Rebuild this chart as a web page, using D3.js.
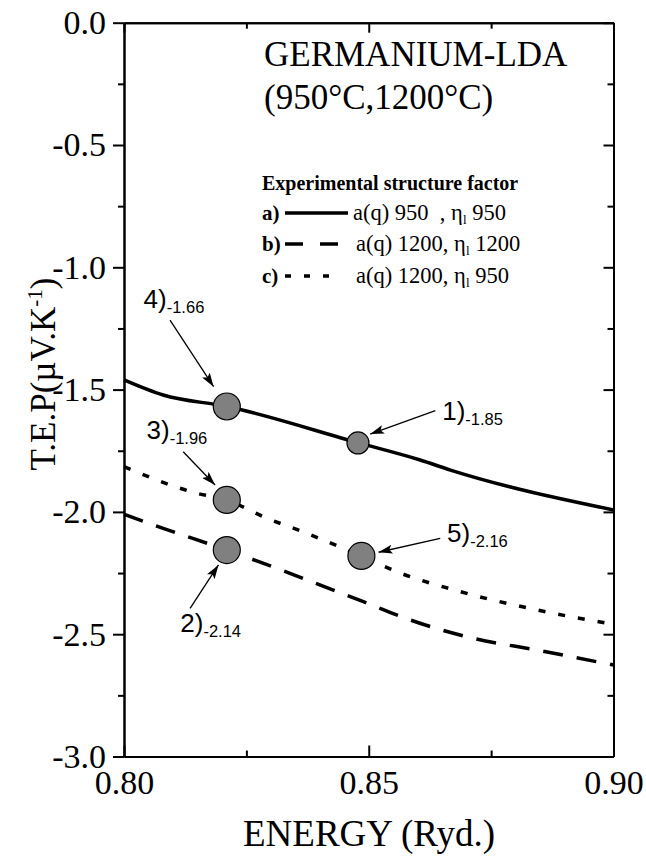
<!DOCTYPE html>
<html lang="en">
<head>
<meta charset="UTF-8">
<title>Germanium LDA - TEP</title>
<style>
  body { margin: 0; background: #fff; }
  svg { display: block; background: #fff; }
  text { font-family: "Liberation Serif", "Times New Roman", serif; fill: #000; }
  .callout text { font-family: "Liberation Sans", Arial, sans-serif; }
  .axis path, .axis line { stroke: #000; stroke-width: 2; }
</style>
</head>
<body>
<div id="graphic"></div>
<script src="https://cdn.jsdelivr.net/npm/d3@7"></script>
<script>
// curve a) a(q) 950, eta 950  (solid)
var solidE = [0.800, 0.808, 0.821, 0.8479, 0.8605, 0.8667, 0.900];
var solidT = [-1.46, -1.522, -1.569, -1.718, -1.788, -1.829, -1.992];
// curve b) a(q) 1200, eta 1200 (dashed)
var dashE = [0.800, 0.808, 0.821, 0.8489, 0.8585, 0.8714, 0.8844, 0.900];
var dashT = [-2.01, -2.067, -2.156, -2.367, -2.442, -2.517, -2.565, -2.626];
// curve c) a(q) 1200, eta 950 (dotted)
var dotE = [0.800, 0.8149, 0.821, 0.8285, 0.8374, 0.8484, 0.8558, 0.8687, 0.8844, 0.900];
var dotT = [-1.815, -1.924, -1.951, -2.02, -2.088, -2.18, -2.245, -2.326, -2.401, -2.46];

// marked points
var markE = [0.821, 0.8478, 0.821, 0.821, 0.8485];
var markT = [-1.569, -1.718, -1.951, -2.156, -2.18];
var markName = ["4)", "1)", "3)", "2)", "5)"];
var markValue = ["-1.66", "-1.85", "-1.96", "-2.14", "-2.16"];
// where each label sits and where its arrow runs (data units)
var labelE = [0.8040, 0.8650, 0.8046, 0.8115, 0.8660];
var labelT = [-1.168, -1.624, -1.70, -2.491, -2.122];
var arrowFromE = [0.8094, 0.8636, 0.8121, 0.8135, 0.8646];
var arrowFromT = [-1.216, -1.586, -1.754, -2.394, -2.108];
var arrowToE = [0.8183, 0.8503, 0.8186, 0.8193, 0.8520];
var arrowToT = [-1.488, -1.682, -1.890, -2.217, -2.165];

var xMajor = [0.80, 0.85, 0.90];
var xMinor = [0.825, 0.875];
var yMajor = [0.0, -0.5, -1.0, -1.5, -2.0, -2.5, -3.0];
var yMinor = [-0.25, -0.75, -1.25, -1.75, -2.25, -2.75];

var legendKey = ["a)", "b)", "c)"];
var legendHead = ["a(q) 950  , \u03b7", "a(q) 1200, \u03b7", "a(q) 1200, \u03b7"];
var legendTail = [" 950", " 1200", " 950"];

var width = 646;
var height = 860;
var padL = 124, padR = 613.5, padT = 22.7, padB = 756.5;

var x = d3.scaleLinear().domain([0.80, 0.90]).range([padL, padR]);
var y = d3.scaleLinear().domain([0, -3]).range([padT, padB]);

var svg = d3.select('#graphic')
    .append('svg')
    .attr('width', width)
    .attr('height', height);

// arrow head
svg.append('defs').append('marker')
    .attr('id', 'head')
    .attr('viewBox', '0 0 14 9')
    .attr('refX', 14).attr('refY', 4.5)
    .attr('markerWidth', 14).attr('markerHeight', 9)
    .attr('markerUnits', 'userSpaceOnUse')
    .attr('orient', 'auto')
    .append('path')
    .attr('d', 'M0,0 L14,4.5 L0,9 L3,4.5 Z')
    .attr('fill', '#000');

// axes: left outward, others inward
function noLabel() { return ''; }

svg.append('g').attr('class', 'axis')
    .attr('transform', 'translate(' + padL + ',0)')
    .call(d3.axisLeft(y).tickValues(yMajor).tickSize(11).tickSizeOuter(0).tickPadding(7)
        .tickFormat(function(d) { return d.toFixed(1); }))
    .call(function(g) {
        g.selectAll('text').attr('font-size', 34).attr('font-family', '"Liberation Serif", serif');
    });
svg.append('g').attr('class', 'axis')
    .attr('transform', 'translate(' + padL + ',0)')
    .call(d3.axisLeft(y).tickValues(yMinor).tickSize(6).tickSizeOuter(0).tickFormat(noLabel));

svg.append('g').attr('class', 'axis')
    .attr('transform', 'translate(' + padR + ',0)')
    .call(d3.axisRight(y).tickValues(yMajor).tickSize(-10).tickSizeOuter(0).tickFormat(noLabel));
svg.append('g').attr('class', 'axis')
    .attr('transform', 'translate(' + padR + ',0)')
    .call(d3.axisRight(y).tickValues(yMinor).tickSize(-6).tickSizeOuter(0).tickFormat(noLabel));

svg.append('g').attr('class', 'axis')
    .attr('transform', 'translate(0,' + padB + ')')
    .call(d3.axisBottom(x).tickValues(xMajor).tickSize(-11).tickSizeOuter(0).tickPadding(13)
        .tickFormat(function(d) { return d.toFixed(2); }))
    .call(function(g) {
        g.selectAll('text').attr('font-size', 34).attr('font-family', '"Liberation Serif", serif');
    });
svg.append('g').attr('class', 'axis')
    .attr('transform', 'translate(0,' + padB + ')')
    .call(d3.axisBottom(x).tickValues(xMinor).tickSize(-6).tickSizeOuter(0).tickFormat(noLabel));

svg.append('g').attr('class', 'axis')
    .attr('transform', 'translate(0,' + padT + ')')
    .call(d3.axisTop(x).tickValues(xMajor).tickSize(-10).tickSizeOuter(0).tickFormat(noLabel));
svg.append('g').attr('class', 'axis')
    .attr('transform', 'translate(0,' + padT + ')')
    .call(d3.axisTop(x).tickValues(xMinor).tickSize(-6).tickSizeOuter(0).tickFormat(noLabel));

// axis titles
svg.append('text')
    .attr('x', 369).attr('y', 846)
    .attr('text-anchor', 'middle')
    .attr('font-size', 37)
    .text('ENERGY (Ryd.)');

var yTitle = svg.append('text')
    .attr('transform', 'translate(55,374) rotate(-90)')
    .attr('text-anchor', 'middle')
    .attr('font-size', 35);
yTitle.append('tspan').text('T.E.P(\u00b5V.K');
yTitle.append('tspan').attr('dy', -13).attr('font-size', 21).text('-1');
yTitle.append('tspan').attr('dy', 13).text(')');

// curves
var line = d3.line()
    .x(function(d) { return x(d[0]); })
    .y(function(d) { return y(d[1]); })
    .curve(d3.curveMonotoneX);

function pairs(a, b) { return a.map(function(v, i) { return [v, b[i]]; }); }

svg.append('path').datum(pairs(dotE, dotT))
    .attr('d', line).attr('fill', 'none').attr('stroke', '#000')
    .attr('stroke-width', 3.5).attr('stroke-dasharray', '7,13');
svg.append('path').datum(pairs(dashE, dashT))
    .attr('d', line).attr('fill', 'none').attr('stroke', '#000')
    .attr('stroke-width', 3.5).attr('stroke-dasharray', '20,14');
svg.append('path').datum(pairs(solidE, solidT))
    .attr('d', line).attr('fill', 'none').attr('stroke', '#000')
    .attr('stroke-width', 3.5);

// marked points with callouts
var callout = svg.append('g').attr('class', 'callout');

callout.selectAll('circle')
    .data(markE)
    .join('circle')
    .attr('cx', function(d) { return x(d); })
    .attr('cy', function(d, i) { return y(markT[i]); })
    .attr('r', function(d, i) { return markName[i] === '1)' ? 11 : 13.5; })
    .attr('fill', '#808080')
    .attr('stroke', '#000')
    .attr('stroke-width', 1.2);

callout.selectAll('line')
    .data(arrowFromE)
    .join('line')
    .attr('x1', function(d) { return x(d); })
    .attr('y1', function(d, i) { return y(arrowFromT[i]); })
    .attr('x2', function(d, i) { return x(arrowToE[i]); })
    .attr('y2', function(d, i) { return y(arrowToT[i]); })
    .attr('stroke', '#000')
    .attr('stroke-width', 1.3)
    .attr('marker-end', 'url(#head)');

var labels = callout.selectAll('text.lab')
    .data(markName)
    .join('text')
    .attr('class', 'lab')
    .attr('x', function(d, i) { return x(labelE[i]); })
    .attr('y', function(d, i) { return y(labelT[i]); })
    .attr('font-size', 26);
labels.append('tspan').text(function(d) { return d; });
labels.append('tspan').attr('dy', 5).attr('font-size', 16.5)
    .text(function(d, i) { return markValue[i]; });

// title
svg.append('text').attr('x', 264).attr('y', 66).attr('font-size', 35).text('GERMANIUM-LDA');
svg.append('text').attr('x', 264).attr('y', 109).attr('font-size', 35).text('(950\u00b0C,1200\u00b0C)');

// legend
svg.append('text').attr('x', 262).attr('y', 190).attr('font-size', 20)
    .attr('font-weight', 'bold').text('Experimental structure factor');

var rowY = [220, 251, 283];
var dash = [null, '18,17', '6,13'];
legendKey.forEach(function(k, i) {
    svg.append('text').attr('x', 262).attr('y', rowY[i]).attr('font-size', 21)
        .attr('font-weight', 'bold').text(k);
    svg.append('line')
        .attr('x1', 285).attr('x2', i === 0 ? 348 : 340)
        .attr('y1', rowY[i] - 7).attr('y2', rowY[i] - 7)
        .attr('stroke', '#000').attr('stroke-width', 3.5)
        .attr('stroke-dasharray', dash[i]);
    var t = svg.append('text').attr('x', i === 0 ? 353 : 356).attr('y', rowY[i])
        .attr('font-size', 22.5).style('white-space', 'pre');
    t.append('tspan').text(legendHead[i]);
    t.append('tspan').attr('dy', 4).attr('font-size', 13).text('l');
    t.append('tspan').attr('dy', -4).text(legendTail[i]);
});
</script>
</body>
</html>
